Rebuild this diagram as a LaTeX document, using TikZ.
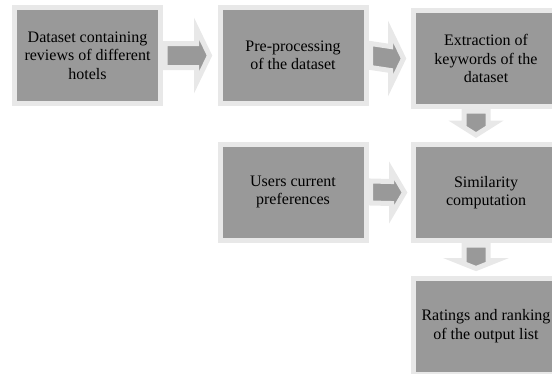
\documentclass[tikz,border=0pt]{standalone}
\usepackage{fontspec}
\setmainfont{Liberation Serif}
\usetikzlibrary{calc}

\begin{document}
\begin{tikzpicture}[x=1pt, y=-1pt,
  box/.style={rectangle, draw=black!9, fill=black!40, line width=5pt,
    minimum width=146pt, minimum height=96pt, align=center, inner sep=0pt,
    font=\fontsize{16}{18.5}\selectfont},
  blockarrow/.style={draw=black!9, fill=black!40, line width=5pt, line join=miter}]
  \clip (0,0) rectangle (552,373);
  % boxes
  \node[box] (data)  at (87.5,55.5) {Dataset containing\\reviews of different\\hotels};
  \node[box] (prep)  at (293,55.5)  {Pre-processing\\of the dataset};
  \node[box] (extr)  at (486,58.5)  {Extraction of\\keywords of the\\dataset};
  \node[box] (users) at (293,192)   {Users current\\preferences};
  \node[box] (sim)   at (486,192.5) {Similarity\\computation};
  \node[box] (rate)  at (486,326)   {Ratings and ranking\\of the output list};
  % horizontal block arrows
  \draw[blockarrow] ($(data.east)+(2,-12)$) -- ($(prep.west)+(-21,-12)$)
    -- ($(prep.west)+(-21,-27)$) -- ($(prep.west)+(-8,0)$)
    -- ($(prep.west)+(-21,27)$) -- ($(prep.west)+(-21,12)$)
    -- ($(data.east)+(2,12)$) -- cycle;
  \draw[blockarrow] ($(prep.east)+(2,-12)$) -- ($(extr.west)+(-20,-12)$)
    -- ($(extr.west)+(-20,-27)$) -- ($(extr.west)+(-7,0)$)
    -- ($(extr.west)+(-20,27)$) -- ($(extr.west)+(-20,12)$)
    -- ($(prep.east)+(2,12)$) -- cycle;
  \draw[blockarrow] ($(users.east)+(2,-11)$) -- ($(sim.west)+(-19,-11)$)
    -- ($(sim.west)+(-19,-22)$) -- ($(sim.west)+(-6,0)$)
    -- ($(sim.west)+(-19,22)$) -- ($(sim.west)+(-19,11)$)
    -- ($(users.east)+(2,11)$) -- cycle;
  % vertical block arrows
  \draw[blockarrow] ($(extr.south)+(-22,2)$) -- ($(sim.north)+(-22,-19)$)
    -- ($(sim.north)+(-29,-19)$) -- ($(sim.north)+(-10,-7)$)
    -- ($(sim.north)+(9,-19)$) -- ($(sim.north)+(2,-19)$)
    -- ($(extr.south)+(2,2)$) -- cycle;
  \draw[blockarrow] ($(sim.south)+(-22,2)$) -- ($(rate.north)+(-22,-15)$)
    -- ($(rate.north)+(-30,-15)$) -- ($(rate.north)+(-10,-7)$)
    -- ($(rate.north)+(10,-15)$) -- ($(rate.north)+(2,-15)$)
    -- ($(sim.south)+(2,2)$) -- cycle;
\end{tikzpicture}
\end{document}
